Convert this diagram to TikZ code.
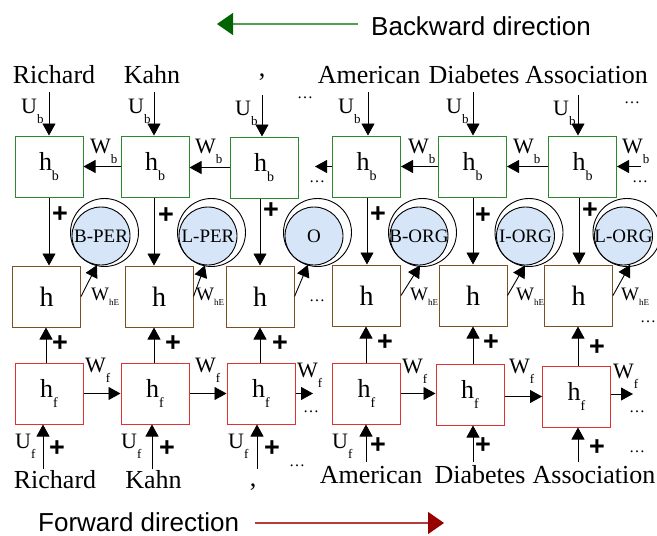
\documentclass[tikz,border=0pt]{standalone}
\usepackage{fontspec}
\setmainfont{Liberation Serif}
\setsansfont{Liberation Sans}
\usetikzlibrary{arrows.meta,calc}
\definecolor{gbox}{RGB}{45,135,45}
\definecolor{bbox}{RGB}{125,80,35}
\definecolor{rbox}{RGB}{225,50,50}
\definecolor{tagblue}{RGB}{214,230,248}
\definecolor{gline}{RGB}{80,160,80}
\definecolor{gdark}{RGB}{0,100,0}
\definecolor{rline}{RGB}{180,60,60}
\definecolor{rdark}{RGB}{150,0,0}
\newcommand{\sublab}[5]{{\fontsize{#3}{#3}\selectfont #1}\raisebox{-#5}{\fontsize{#4}{#4}\selectfont #2}}
\begin{document}
\begin{tikzpicture}[x=1pt,y=-1pt,
 box/.style={draw, line width=1pt, minimum width=68pt, minimum height=61pt, inner sep=0pt, fill=white},
 arr/.style={-{Triangle[width=13pt,length=12pt]}, line width=0.9pt},
 plus/.style={font=\sffamily\bfseries\fontsize{27}{27}\selectfont, inner sep=0pt},
 word/.style={font=\fontsize{26}{28}\selectfont, inner sep=0pt, anchor=base},
 lab/.style={inner sep=0pt, anchor=base west},
 dots/.style={font=\fontsize{16}{16}\selectfont, inner sep=0pt},
 tag/.style={circle, draw, line width=0.9pt, fill=tagblue, minimum size=58pt, inner sep=0pt, font=\fontsize{19}{19}\selectfont},
 ring/.style={circle, draw, line width=0.9pt, fill=white, minimum size=68pt, inner sep=0pt}]
\useasboundingbox (0,0) rectangle (657,536);

% direction arrows
\coordinate (bwA) at (358,24);
\coordinate (bwB) at (217,24);
\draw[line width=1.3pt, gline, -{Triangle[width=22pt,length=16pt,color=gdark]}] (bwA) -- (bwB);
\node[anchor=base west, inner sep=0pt, font=\sffamily\fontsize{26}{28}\selectfont] (bwt) at (371,35) {Backward direction};
\coordinate (fwA) at (255,523);
\coordinate (fwB) at (444,523);
\draw[line width=1.3pt, rline, -{Triangle[width=22pt,length=16pt,color=rdark]}] (fwA) -- (fwB);
\node[anchor=base west, inner sep=0pt, font=\sffamily\fontsize{26}{28}\selectfont] (fwt) at (38,531) {Forward direction};

% top words
\node[word] (tw1) at (54,83) {Richard};
\node[word] (tw2) at (152,83) {Kahn};
\node[word] (tw3) at (262,76) {,};
\node[word] (tw4) at (369,83) {American};
\node[word] (tw5) at (474,83) {Diabetes};
\node[word] (tw6) at (586.5,83) {Association};
% bottom words
\node[word] (bw1) at (55,488) {Richard};
\node[word] (bw2) at (153.5,488) {Kahn};
\node[word] (bw3) at (253,486) {,};
\node[word] (bw4) at (371,483) {American};
\node[word] (bw5) at (480,483) {Diabetes};
\node[word] (bw6) at (594,483) {Association};

% boxes
\foreach \n/\x/\y in {1/49/166.5,2/155/166.5,3/264/167.5,4/366.5/166.5,5/472.5/166.5,6/582.5/166.5}
  \node[box, draw=gbox] (b\n) at (\x,\y) {\sublab{h}{b}{26pt}{14pt}{10pt}};
\foreach \n/\x/\y in {1/46.5/296.5,2/159/296.5,3/260/296.5,4/366.5/295.5,5/473/295.5,6/578.5/295.5}
  \node[box, draw=bbox] (m\n) at (\x,\y) {\fontsize{28}{28}\selectfont h};
\foreach \n/\x/\y in {1/49/393.5,2/155/393.5,3/261/393.5,4/366.5/393.5,5/470/394.5,6/576.5/396.5}
  \node[box, draw=rbox] (f\n) at (\x,\y) {\sublab{h}{f}{26pt}{14pt}{10pt}};

% tag circles
\foreach \n/\x/\t in {1/101/B-PER,2/208/L-PER,3/314/O,4/419/B-ORG,5/525.5/I-ORG,6/623.5/L-ORG}{
  \node[ring] (r\n) at (\x+3.5,232.5) {};
  \node[tag] (c\n) at (\x,236) {\makebox[0pt]{\t}};
}

% top input arrows
\foreach \n/\x/\y in {1/49/92,2/154/92,3/262/95,4/368/92,5/473/92,6/578/95}{
  \coordinate (ta\n) at (\x,\y);
  \draw[arr] (ta\n) -- (ta\n |- b\n.north);
}
% hb -> h
\foreach \n/\x in {1/49,2/154,3/260,4/367,5/473,6/579}{
  \coordinate (vb\n) at (\x,0);
  \draw[arr] (b\n.south -| vb\n) -- (m\n.north -| vb\n);
}
% hf -> h
\foreach \n/\x in {1/46,2/154,3/260,4/366,5/473,6/578}{
  \coordinate (vf\n) at (\x,0);
  \draw[arr] (f\n.north -| vf\n) -- (m\n.south -| vf\n);
}
% bottom input arrows
\foreach \n/\x/\y in {1/43/469,2/152/469,3/257/469,4/366/462,5/473/462,6/578/462}{
  \coordinate (ia\n) at (\x,\y);
  \draw[arr] (ia\n) -- (ia\n |- f\n.south);
}
% backward recurrent arrows
\draw[arr] (b2.west) -- (b2.west -| b1.east);
\draw[arr] (b3.west) -- (b3.west -| b2.east);
\coordinate (bx4) at (315,166.5);
\draw[arr] (b4.west) -- (bx4);
\draw[arr] (b5.west) -- (b5.west -| b4.east);
\draw[arr] (b6.west) -- (b6.west -| b5.east);
\coordinate (bx6) at (641,166.5);
\draw[arr] (bx6) -- (bx6 -| b6.east);
% forward recurrent arrows
\draw[arr] (f1.east) -- (f1.east -| f2.west);
\draw[arr] (f2.east) -- (f2.east -| f3.west);
\coordinate (fx3) at (313,393.5);
\draw[arr] (f3.east) -- (fx3);
\draw[arr] (f4.east) -- (f4.east -| f5.west);
\draw[arr] (f5.east |- f6.west) -- (f6.west);
\coordinate (fx6) at (633,394);
\draw[arr] (f6.east |- fx6) -- (fx6);
% h -> tag arrows
\foreach \n/\a in {1/262,2/264,3/258,4/272,5/269,6/283}
  \draw[arr] (m\n.east) -- (c\n.\a);

% labels U_b
\foreach \x/\y in {21/113,128/113,235/115,338/113,446/113,553/115}
  \node[lab] at (\x,\y) {\sublab{U}{b}{22pt}{13pt}{10pt}};
% labels W_b
\foreach \x/\y in {90/153,195/153,408/153,513/153,622/153}
  \node[lab] at (\x,\y) {\sublab{W}{b}{22pt}{13pt}{10pt}};
% labels W_hE
\foreach \x/\y in {91/300,196/300,410/300,516/300,621/300}
  \node[lab] at (\x,\y) {\sublab{W}{hE}{19pt}{9pt}{5pt}};
% labels W_f
\foreach \x/\y in {85/372,195/372,297/377,402/373,509/373,613/378}
  \node[lab] at (\x,\y) {\sublab{W}{f}{22pt}{13pt}{10pt}};
% labels U_f
\foreach \x/\y in {15/448,121/448,228/448,332/448}
  \node[lab] at (\x,\y) {\sublab{U}{f}{22pt}{13pt}{10pt}};

% plus signs
\foreach \x/\y in {60/215,166/216,271/211,378/215,483/216,590/211,
                   60/344,173/344,280/344,385/343,491/343,597/348,
                   57/449,167/449,272/449,378/446,483/446,597/448}
  \node[plus] at (\x,\y) {+};

% ellipses
\foreach \x/\y in {305/98,632/103,317/182,640/182,317/301,648/322,311/412,637/412,637/452,297/466}
  \node[dots] at (\x,\y) {…};
\end{tikzpicture}
\end{document}
